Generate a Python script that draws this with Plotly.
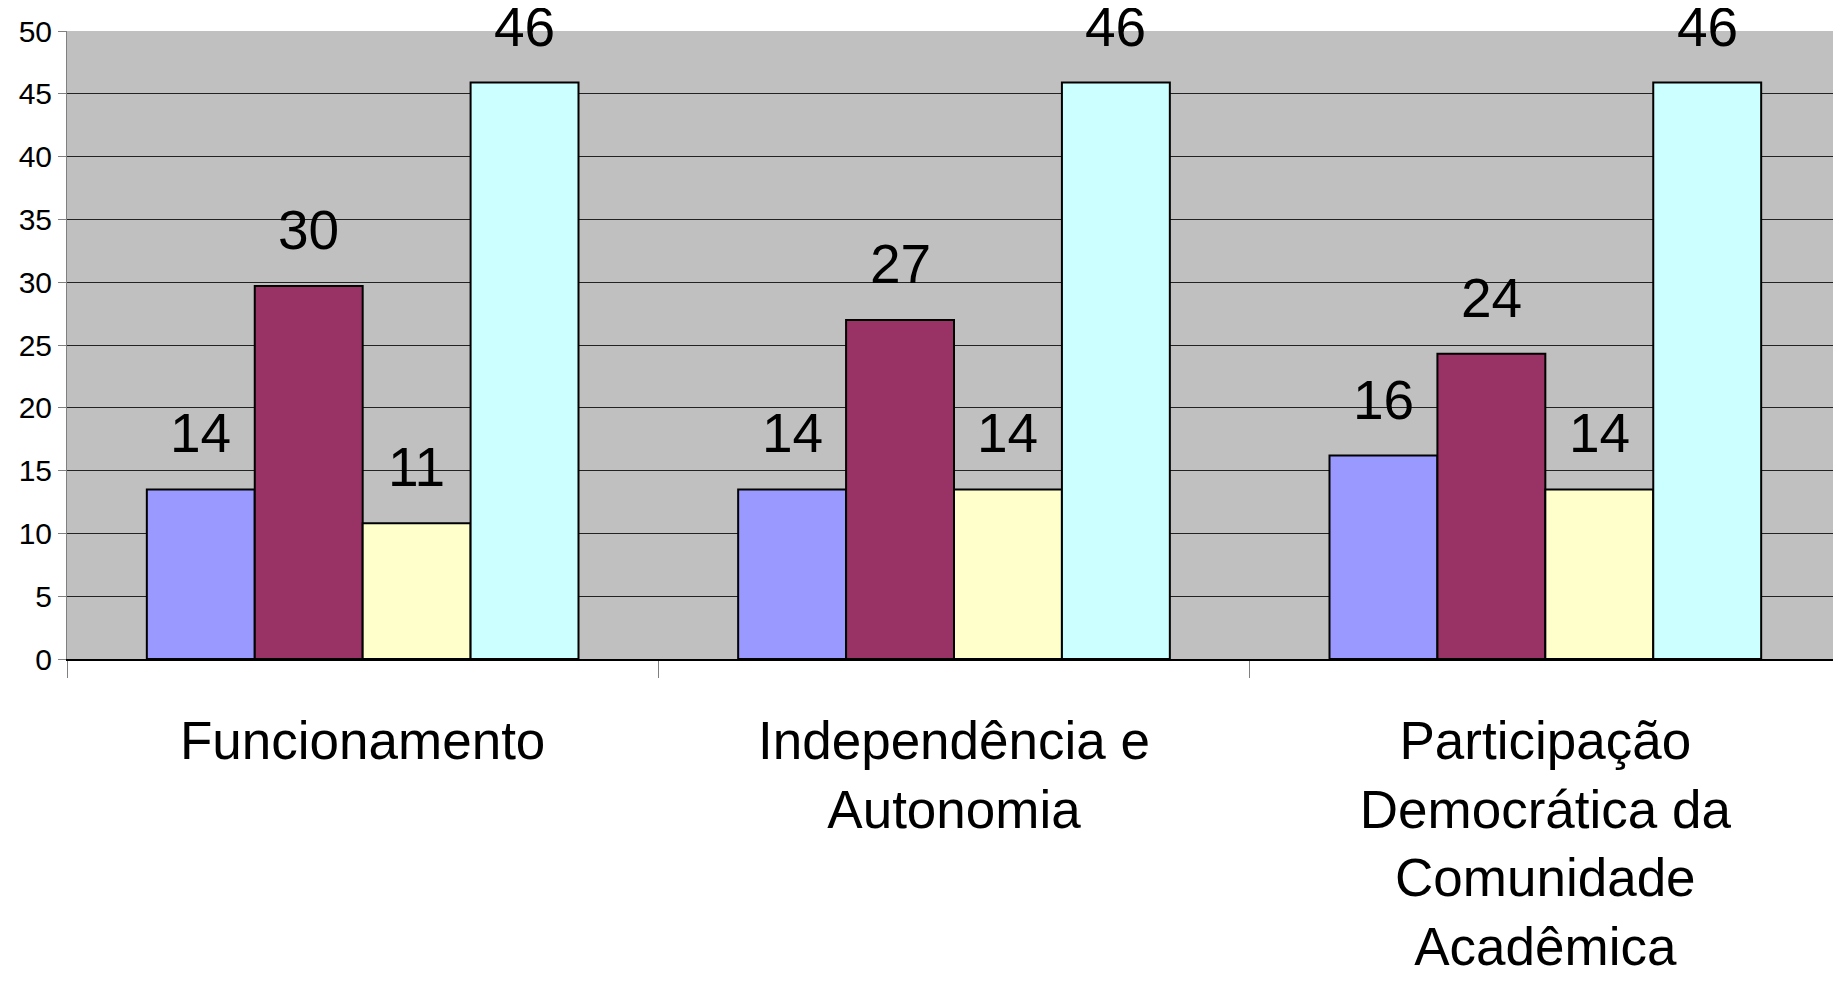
import plotly.graph_objects as go

categories = ["Funcionamento", "Independência e<br>Autonomia",
              "Participação<br>Democrática da<br>Comunidade<br>Acadêmica"]
series_names = ["Série 1", "Série 2", "Série 3", "Série 4"]
series_values = [
    [13.5, 13.5, 16.2],
    [29.7, 27.0, 24.3],
    [10.8, 13.5, 13.5],
    [45.9, 45.9, 45.9],
]
series_labels = [
    ["14", "14", "16"],
    ["30", "27", "24"],
    ["11", "14", "14"],
    ["46", "46", "46"],
]
colors = ["#9999FF", "#993366", "#FFFFCC", "#CCFFFF"]
y_ticks = [0, 5, 10, 15, 20, 25, 30, 35, 40, 45, 50]

BARGAP = 0.27
FONT = "Liberation Sans, Arial, sans-serif"

fig = go.Figure()
for name, vals, col in zip(series_names, series_values, colors):
    fig.add_trace(go.Bar(
        x=categories, y=vals, name=name,
        marker=dict(color=col, line=dict(color="black", width=2)),
        hoverinfo="skip",
    ))

n = len(series_values)
bw = (1 - BARGAP) / n
annotations = []
for si, labs in enumerate(series_labels):
    for ci, lab in enumerate(labs):
        annotations.append(dict(
            x=ci + (si - (n - 1) / 2) * bw, y=series_values[si][ci],
            xref="x", yref="y", text=lab, showarrow=False,
            yanchor="bottom", yshift=23,
            font=dict(family=FONT, size=55, color="black"),
        ))

fig.update_layout(
    width=1833, height=973,
    margin=dict(l=59, r=0, t=23, b=322),
    paper_bgcolor="white", plot_bgcolor="#C0C0C0",
    barmode="group", bargap=BARGAP, bargroupgap=0,
    showlegend=False,
    annotations=annotations,
    font=dict(family=FONT, color="black"),
)
fig.update_xaxes(
    type="category", automargin=False,
    ticks="outside", tickson="boundaries", ticklen=17, tickcolor="#808080", tickwidth=1,
    showline=True, linecolor="black", linewidth=2,
    showgrid=False, zeroline=False,
    tickfont=dict(family=FONT, size=53, color="black"),
    ticklabelstandoff=34,
)
fig.update_yaxes(
    range=[0, 50], tickvals=y_ticks, automargin=False,
    ticks="outside", ticklen=8, tickcolor="#808080", tickwidth=1,
    showline=True, linecolor="#808080", linewidth=1,
    showgrid=True, gridcolor="#222222", gridwidth=1,
    zeroline=False,
    tickfont=dict(family=FONT, size=30, color="black"),
)

fig.write_html("out.html")
